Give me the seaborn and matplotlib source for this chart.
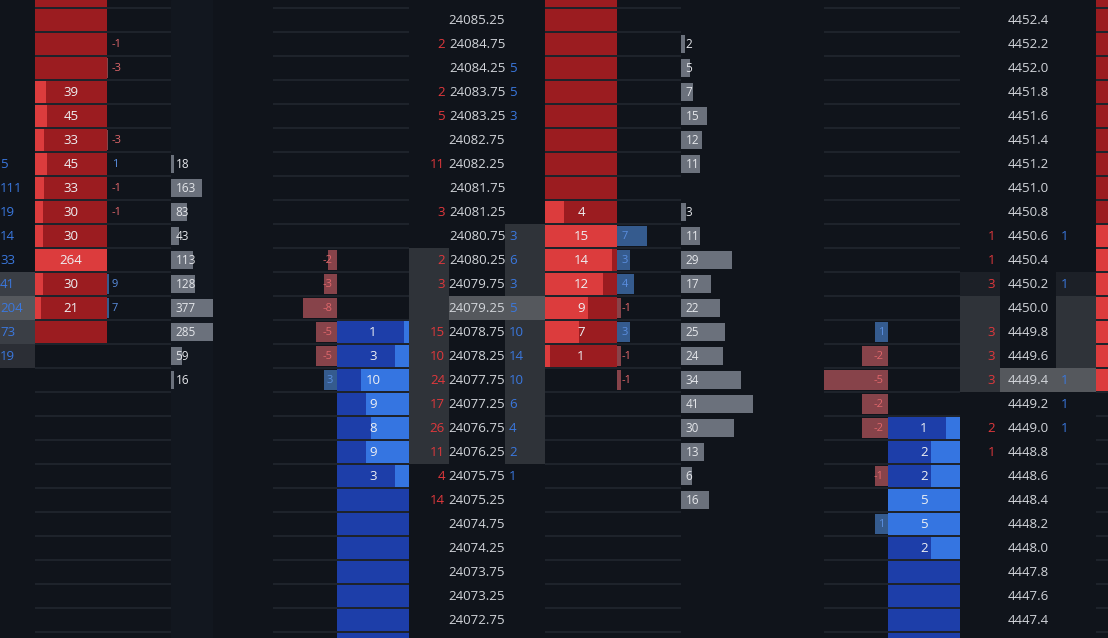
import numpy as np
import pandas as pd
import matplotlib.pyplot as plt
import matplotlib.transforms as mtrans
import seaborn as sns

N = None

# ---------------- panel B (NQ ladder) ----------------
prices_b = ['24085.75', '24085.25', '24084.75', '24084.25', '24083.75', '24083.25',
            '24082.75', '24082.25', '24081.75', '24081.25', '24080.75', '24080.25',
            '24079.75', '24079.25', '24078.75', '24078.25', '24077.75', '24077.25',
            '24076.75', '24076.25', '24075.75', '24075.25', '24074.75', '24074.25',
            '24073.75', '24073.25', '24072.75']
sell_b = [N, N, 2, N, 2, 5, N, 11, N, 3, N, 2, 3, N, 15, 10, 24, 17, 26, 11, 4, 14, N, N, N, N, N]
buy_b = [N, N, N, 5, 5, 3, N, N, N, N, 3, 6, 3, 5, 10, 14, 10, 6, 4, 2, 1, N, N, N, N, N, N]
ask_b = [N, N, N, N, N, N, N, N, N, 4, 15, 14, 12, 9, 7, 1, N, N, N, N, N, N, N, N, N, N, N]
bid_b = [N, N, N, N, N, N, N, N, N, N, N, N, N, N, 1, 3, 10, 9, 8, 9, 3, N, N, N, N, N, N]
delta_bid_b = [N, N, N, N, N, N, N, N, N, N, N, -2, -3, -8, -5, -5, 3, N, N, N, N, N, N, N, N, N, N]
delta_ask_b = [N, N, N, N, N, N, N, N, N, N, 7, 3, 4, -1, 3, -1, -1, N, N, N, N, N, N, N, N, N, N]
vol_b = [N, N, 2, 5, 7, 15, 12, 11, N, 3, 11, 29, 17, 22, 25, 24, 34, 41, 30, 13, 6, 16, N, N, N, N, N]
ask_side_b = range(0, 16)
bid_side_b = range(14, 28)
sell_area_b = range(11, 20)
buy_area_b = range(10, 20)
last_b = 13

# ---------------- panel A (left, cut off) ----------------
buy_a = [N, N, N, N, N, N, N, 5, 111, 19, 14, 33, 41, 204, 73, 19, N, N, N, N, N, N, N, N, N, N, N]
ask_a = [N, N, N, N, 39, 45, 33, 45, 33, 30, 30, 264, 30, 21, N, N, N, N, N, N, N, N, N, N, N, N, N]
delta_a = [N, N, -1, -3, N, N, -3, 1, -1, -1, N, N, 9, 7, N, N, N, N, N, N, N, N, N, N, N, N, N]
vol_a = [N, N, N, N, N, N, N, 18, 163, 83, 43, 113, 128, 377, 285, 59, 16, N, N, N, N, N, N, N, N, N, N]
ask_side_a = range(0, 15)
last_a = 13

# ---------------- panel C (ES ladder) ----------------
prices_c = ['4452.6', '4452.4', '4452.2', '4452.0', '4451.8', '4451.6', '4451.4',
            '4451.2', '4451.0', '4450.8', '4450.6', '4450.4', '4450.2', '4450.0',
            '4449.8', '4449.6', '4449.4', '4449.2', '4449.0', '4448.8', '4448.6',
            '4448.4', '4448.2', '4448.0', '4447.8', '4447.6', '4447.4']
sell_c = [N, N, N, N, N, N, N, N, N, N, 1, 1, 3, N, 3, 3, 3, N, 2, 1, N, N, N, N, N, N, N]
buy_c = [N, N, N, N, N, N, N, N, N, N, 1, N, 1, N, N, N, 1, 1, 1, N, N, N, N, N, N, N, N]
ask_c = [N, N, N, N, N, N, N, N, N, N, 3, 2, 4, 3, 5, 2, 1, N, N, N, N, N, N, N, N, N, N]
bid_c = [N, N, N, N, N, N, N, N, N, N, N, N, N, N, N, N, N, N, 1, 2, 2, 5, 5, 2, N, N, N]
delta_c = [N, N, N, N, N, N, N, N, N, N, N, N, N, N, 1, -2, -5, -2, -2, N, -1, N, 1, N, N, N, N]
ask_side_c = range(0, 17)
bid_side_c = range(18, 28)
sell_area_c = range(13, 17)
buy_area_c = range(13, 16)
dim_c = 12
last_c = 16

# ---------------- style ----------------
BG = '#10141b'
SEP = '#232830'
DARK_RED = '#9b1c20'
LIGHT_RED = '#dc3c3d'
DARK_BLUE = '#1d3ea9'
LIGHT_BLUE = '#3575e1'
VOL = '#6b717c'
NEG_BAR = '#87434a'
POS_BAR = '#355b8e'
NEG_TXT = '#e0676b'
POS_TXT = '#5a8ee0'
SELL_TXT = '#df383c'
BUY_TXT = '#3a78df'
PRICE_TXT = '#d2d5da'
CELL_TXT = '#eef0f3'
VOL_TXT = '#e4e6ea'
GREY = '#2f3339'
GREY2 = '#3a3e45'
DIM = '#1c2027'
HILITE = '#55585d'

sns.set_theme(style='dark', rc={'figure.facecolor': BG, 'axes.facecolor': BG})
plt.rcParams['font.family'] = ['Open Sans', 'DejaVu Sans']

W, H = 1108, 638
ROW = 24          # pixel height of a ladder row
TOP = -4          # pixel centre of row 0
YLIM = ((H - TOP) / ROW, (0 - TOP) / ROW)

fig = plt.figure(figsize=(W / 100, H / 100), dpi=100)
limits = []


def column(x0, x1, xmax=1, flip=False, grid=False):
    ax = fig.add_axes([x0 / W, 0, (x1 - x0) / W, 1])
    ax.set_axis_off()
    if grid:
        ax.hlines(np.arange(28) + 0.5, 0, 1, transform=ax.get_yaxis_transform(),
                  colors=SEP, lw=1.1, zorder=0)
    limits.append((ax, (xmax, 0) if flip else (0, xmax)))
    return ax


def shade(ax, rows, color):
    for r in rows:
        ax.axhspan(r - 0.5, r + 0.5, color=color, lw=0, zorder=0.2)


def fill(ax, rows, color):
    for r in rows:
        ax.axhspan(r - 0.46, r + 0.46, color=color, lw=0, zorder=0.5)


def frame(values):
    df = pd.DataFrame({'row': range(len(values)), 'val': values}).dropna()
    df['val'] = df['val'].astype(float)
    df['size'] = df['val'].abs()
    df['side'] = np.where(df['val'] < 0, 'neg', 'pos')
    return df


def bars(ax, values, color, width):
    df = frame(values)
    sns.barplot(data=df, x='size', y='row', orient='y', native_scale=True,
                color=color, saturation=1, width=width, linewidth=0,
                errorbar=None, ax=ax)


def delta_bars(ax, values):
    df = frame(values)
    sns.barplot(data=df, x='size', y='row', hue='side', orient='y', native_scale=True,
                palette={'neg': NEG_BAR, 'pos': POS_BAR}, saturation=1, width=0.84,
                dodge=False, linewidth=0, errorbar=None, legend=False, ax=ax)


def labels(ax, values, anchor, ha, color, size, pad=0):
    tr = mtrans.offset_copy(ax.get_yaxis_transform(), fig=fig, x=pad, y=-0.5, units='dots')
    for r, v in enumerate(values):
        if v is None:
            continue
        c = color(v) if callable(color) else color
        ax.text(anchor, r, str(v), transform=tr, ha=ha, va='center',
                color=c, fontsize=size, clip_on=False)


def delta_color(v):
    return NEG_TXT if v < 0 else POS_TXT


# ---------- panel A ----------
ax = column(171, 213, 377 * 42 / 72)
ax.add_patch(plt.Rectangle((0, 0), 1, 1, transform=ax.transAxes, color='#12171f', zorder=0))
bars(ax, vol_a, VOL, 0.75)
labels(ax, vol_a, 0, 'left', VOL_TXT, 8.5, pad=4.5)

ax = column(-6, 35)
shade(ax, [12, 14], GREY2)
shade(ax, [15], '#2b2e35')
shade(ax, [last_a], HILITE)
labels(ax, buy_a, 0, 'left', BUY_TXT, 9.5, pad=6)

ax = column(35, 107, max(v for v in ask_a if v), grid=True)
fill(ax, ask_side_a, DARK_RED)
bars(ax, ask_a, LIGHT_RED, 0.92)
labels(ax, ask_a, 0.5, 'center', CELL_TXT, 9.5)

ax = column(107, 171, 250, grid=True)
delta_bars(ax, delta_a)
labels(ax, delta_a, 0, 'left', delta_color, 8, pad=5)

ax = column(216, 222)
ax.vlines(0.5, 14.7, 16.4, transform=ax.get_xaxis_transform(), colors='#2a2f37', lw=1)

# ---------- panel B ----------
ax = column(273, 337, 15, flip=True, grid=True)
delta_bars(ax, delta_bid_b)
labels(ax, delta_bid_b, 1, 'right', delta_color, 8, pad=-4)

ax = column(337, 409, 15, flip=True, grid=True)
fill(ax, bid_side_b, DARK_BLUE)
bars(ax, bid_b, LIGHT_BLUE, 0.92)
labels(ax, bid_b, 0.5, 'center', CELL_TXT, 9.5)

ax = column(409, 449)
shade(ax, sell_area_b, GREY)
labels(ax, sell_b, 1, 'right', SELL_TXT, 9.5, pad=-4)

ax = column(449, 505)
shade(ax, [last_b], HILITE)
labels(ax, prices_b, 0.5, 'center', PRICE_TXT, 9.5)

ax = column(505, 545)
shade(ax, buy_area_b, GREY)
shade(ax, [last_b], HILITE)
labels(ax, buy_b, 0, 'left', BUY_TXT, 9.5, pad=4)

ax = column(545, 617, 15, grid=True)
fill(ax, ask_side_b, DARK_RED)
bars(ax, ask_b, LIGHT_RED, 0.92)
labels(ax, ask_b, 0.5, 'center', CELL_TXT, 9.5)

ax = column(617, 681, 15, grid=True)
delta_bars(ax, delta_ask_b)
labels(ax, delta_ask_b, 0, 'left', delta_color, 8, pad=5)

ax = column(681, 753, max(v for v in vol_b if v))
bars(ax, vol_b, VOL, 0.75)
labels(ax, vol_b, 0, 'left', VOL_TXT, 8.5, pad=4.5)

ax = column(767, 773)
ax.vlines(0.5, 14.7, 16.4, transform=ax.get_xaxis_transform(), colors='#2a2f37', lw=1)

# ---------- panel C ----------
ax = column(824, 888, 5, flip=True, grid=True)
delta_bars(ax, delta_c)
labels(ax, delta_c, 1, 'right', delta_color, 8, pad=-4)

ax = column(888, 960, 5, flip=True, grid=True)
fill(ax, bid_side_c, DARK_BLUE)
bars(ax, bid_c, LIGHT_BLUE, 0.92)
labels(ax, bid_c, 0.5, 'center', CELL_TXT, 9.5)

ax = column(960, 1000)
shade(ax, [dim_c], DIM)
shade(ax, sell_area_c, GREY)
labels(ax, sell_c, 1, 'right', SELL_TXT, 9.5, pad=-5)

ax = column(1000, 1056)
shade(ax, [last_c], HILITE)
labels(ax, prices_c, 0.5, 'center', PRICE_TXT, 9.5)

ax = column(1056, 1096)
shade(ax, [dim_c], DIM)
shade(ax, buy_area_c, GREY)
shade(ax, [last_c], HILITE)
labels(ax, buy_c, 0, 'left', BUY_TXT, 9.5, pad=5)

ax = column(1096, 1168, 5, grid=True)
fill(ax, ask_side_c, DARK_RED)
bars(ax, ask_c, LIGHT_RED, 0.92)

for a, xl in limits:
    a.set_xlim(*xl)
    a.set_ylim(*YLIM)

fig.savefig('out.png', dpi=100, facecolor=BG)
